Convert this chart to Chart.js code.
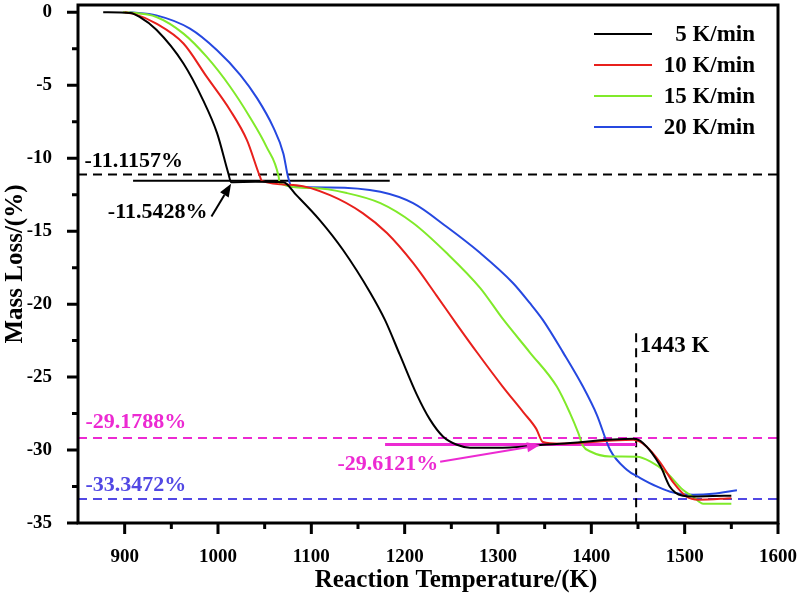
<!DOCTYPE html>
<html>
<head>
<meta charset="utf-8">
<script src="https://cdn.jsdelivr.net/npm/chart.js@4.4.0/dist/chart.umd.min.js"></script>
<style>
  html, body { margin: 0; padding: 0; background: #fff; }
</style>
</head>
<body>
<canvas id="tga-chart" width="798" height="595"></canvas>
<script>
// Reaction temperature (K) and mass loss (%) for each heating rate
const temps5  = [877, 906, 916, 934, 963, 984, 999, 1011, 1014, 1040, 1070, 1084, 1109, 1134, 1163, 1179, 1195, 1213, 1227, 1241, 1256, 1270, 1313, 1348, 1366, 1445, 1455, 1474, 1484, 1490, 1498, 1509, 1530, 1550];
const mass5   = [0, -0.05, -0.32, -1.2, -3.51, -6.02, -8.28, -11.02, -11.64, -11.62, -11.64, -12.53, -14.24, -16.29, -19.2, -21.1, -23.5, -26.2, -27.9, -29.07, -29.64, -29.84, -29.82, -29.64, -29.57, -29.23, -29.5, -31.1, -32.5, -32.92, -33.13, -33.18, -33.15, -33.13];

const temps10 = [900, 909, 934, 963, 988, 1013, 1031, 1045, 1047, 1084, 1120, 1155, 1181, 1209, 1234, 1256, 1278, 1305, 1327, 1341, 1348, 1366, 1445, 1459, 1474, 1488, 1502, 1515, 1550];
const mass10  = [0, -0.09, -0.78, -2.14, -4.43, -6.71, -8.76, -11.27, -11.55, -11.85, -12.53, -13.76, -15.13, -17.18, -19.4, -21.4, -23.35, -25.65, -27.4, -28.55, -29.45, -29.57, -29.3, -29.75, -30.87, -32.24, -33.2, -33.4, -33.3];

const temps15 = [898, 906, 934, 963, 988, 1013, 1034, 1052, 1065, 1066, 1102, 1138, 1174, 1209, 1245, 1281, 1305, 1334, 1363, 1377, 1386, 1391, 1399, 1420, 1449, 1463, 1481, 1498, 1509, 1520, 1550];
const mass15  = [0, -0.02, -0.32, -1.46, -3.06, -5.1, -7.17, -9.22, -11.27, -11.72, -12.05, -12.39, -13.08, -14.44, -16.5, -18.9, -21.0, -23.3, -25.65, -27.45, -28.82, -29.7, -30.1, -30.44, -30.46, -30.78, -31.57, -32.72, -33.2, -33.68, -33.68];

const temps20 = [905, 934, 970, 999, 1024, 1042, 1059, 1070, 1075, 1079, 1120, 1174, 1209, 1245, 1281, 1316, 1334, 1348, 1370, 1391, 1406, 1420, 1438, 1452, 1470, 1488, 1509, 1530, 1556];
const mass20  = [0, -0.21, -1.12, -2.6, -4.3, -5.9, -7.85, -9.67, -11.27, -11.96, -12.0, -12.3, -13.08, -14.7, -16.5, -18.55, -19.92, -21.08, -23.34, -25.65, -27.6, -29.98, -31.35, -31.9, -32.49, -32.92, -33.06, -33.0, -32.75];

const seriesLabels = ['5 K/min', '10 K/min', '15 K/min', '20 K/min'];
const seriesColors = ['#000000', '#e8201c', '#80ea2a', '#2648e0'];

const xTicks = [900, 1000, 1100, 1200, 1300, 1400, 1500, 1600];
const xMinor = [950, 1050, 1150, 1250, 1350, 1450, 1550];
const yTicks = [0, -5, -10, -15, -20, -25, -30, -35];
const yMinor = [-2.5, -7.5, -12.5, -17.5, -22.5, -27.5, -32.5];

const PINK = '#ec2ad2';
const PURPLE = '#5248e4';

// reference lines and their labels (data coordinates)
const dashedLevels = [
  { y: -11.1157, color: '#000000', text: '-11.1157%', tx: 857, ty: -10.6 },
  { y: -29.1788, color: PINK, text: '-29.1788%', tx: 858, ty: -28.47 },
  { y: -33.3472, color: PURPLE, text: '-33.3472%', tx: 858, ty: -32.8 }
];
const plateauLines = [
  { y: -11.5428, from: 909, to: 1184, color: '#000000', width: 2, text: '-11.5428%', tx: 882, ty: -14.1, arrow: [993, -14.0, 1014, -11.75] },
  { y: -29.6121, from: 1179, to: 1448, color: PINK, width: 3, text: '-29.6121%', tx: 1128, ty: -31.4, arrow: [1238, -30.8, 1345, -29.66] }
];
const markTemp = 1448;
const markTop = -22;
const markText = '1443 K';
const markTextPos = [1452, -23.3];

const SERIF = '"Liberation Serif", "Times New Roman", serif';

const toPoints = (ts, ms) => ts.map((t, i) => ({ x: t, y: ms[i] }));
const allSeries = [[temps5, mass5], [temps10, mass10], [temps15, mass15], [temps20, mass20]];

function drawArrow(ctx, x1, y1, x2, y2, color) {
  const ang = Math.atan2(y2 - y1, x2 - x1);
  const head = 13, half = 5;
  ctx.save();
  ctx.strokeStyle = color;
  ctx.fillStyle = color;
  ctx.lineWidth = 2;
  ctx.beginPath();
  ctx.moveTo(x1, y1);
  ctx.lineTo(x2 - head * Math.cos(ang), y2 - head * Math.sin(ang));
  ctx.stroke();
  ctx.beginPath();
  ctx.moveTo(x2, y2);
  ctx.lineTo(x2 - head * Math.cos(ang) + half * Math.sin(ang), y2 - head * Math.sin(ang) - half * Math.cos(ang));
  ctx.lineTo(x2 - head * Math.cos(ang) - half * Math.sin(ang), y2 - head * Math.sin(ang) + half * Math.cos(ang));
  ctx.closePath();
  ctx.fill();
  ctx.restore();
}

const annotations = {
  id: 'annotations',
  beforeDatasetsDraw(chart) {
    const { ctx, chartArea: a, scales: { x, y } } = chart;
    ctx.save();
    ctx.lineWidth = 2;
    ctx.setLineDash([9, 6]);
    dashedLevels.forEach(l => {
      ctx.strokeStyle = l.color;
      ctx.beginPath();
      ctx.moveTo(a.left, y.getPixelForValue(l.y));
      ctx.lineTo(a.right, y.getPixelForValue(l.y));
      ctx.stroke();
    });
    ctx.strokeStyle = '#000';
    ctx.beginPath();
    ctx.moveTo(x.getPixelForValue(markTemp), y.getPixelForValue(markTop));
    ctx.lineTo(x.getPixelForValue(markTemp), a.bottom);
    ctx.stroke();
    ctx.setLineDash([]);
    plateauLines.forEach(l => {
      ctx.strokeStyle = l.color;
      ctx.lineWidth = l.width;
      ctx.beginPath();
      ctx.moveTo(x.getPixelForValue(l.from), y.getPixelForValue(l.y));
      ctx.lineTo(x.getPixelForValue(l.to), y.getPixelForValue(l.y));
      ctx.stroke();
    });
    ctx.restore();
  },
  afterDraw(chart) {
    const { ctx, chartArea: a, scales: { x, y } } = chart;
    ctx.save();
    // arrows
    plateauLines.forEach(l => {
      const [t1, m1, t2, m2] = l.arrow;
      drawArrow(ctx, x.getPixelForValue(t1), y.getPixelForValue(m1), x.getPixelForValue(t2), y.getPixelForValue(m2), l.color);
    });
    // labels
    ctx.font = 'bold 22px ' + SERIF;
    ctx.textAlign = 'left';
    ctx.textBaseline = 'alphabetic';
    dashedLevels.concat(plateauLines).forEach(l => {
      ctx.fillStyle = l.color;
      ctx.fillText(l.text, x.getPixelForValue(l.tx), y.getPixelForValue(l.ty));
    });
    ctx.fillStyle = '#000';
    ctx.font = 'bold 23px ' + SERIF;
    ctx.fillText(markText, x.getPixelForValue(markTextPos[0]), y.getPixelForValue(markTextPos[1]));

    // legend
    ctx.font = 'bold 23px ' + SERIF;
    ctx.textAlign = 'right';
    ctx.textBaseline = 'middle';
    chart.data.datasets.forEach((ds, i) => {
      const ly = a.top + 29 + i * 31;
      ctx.strokeStyle = ds.borderColor;
      ctx.lineWidth = 2;
      ctx.beginPath();
      ctx.moveTo(a.right - 184, ly);
      ctx.lineTo(a.right - 126, ly);
      ctx.stroke();
      ctx.fillStyle = '#000';
      ctx.fillText(ds.label, a.right - 23, ly + 1);
    });

    // frame and tick marks
    ctx.strokeStyle = '#000';
    ctx.lineWidth = 3;
    ctx.strokeRect(a.left, a.top, a.right - a.left, a.bottom - a.top);
    ctx.beginPath();
    xTicks.forEach(v => { const p = x.getPixelForValue(v); ctx.moveTo(p, a.bottom); ctx.lineTo(p, a.bottom + 11); });
    xMinor.forEach(v => { const p = x.getPixelForValue(v); ctx.moveTo(p, a.bottom); ctx.lineTo(p, a.bottom + 6); });
    yTicks.forEach(v => { const p = y.getPixelForValue(v); ctx.moveTo(a.left, p); ctx.lineTo(a.left - 11, p); });
    yMinor.forEach(v => { const p = y.getPixelForValue(v); ctx.moveTo(a.left, p); ctx.lineTo(a.left - 6, p); });
    ctx.stroke();

    // axis titles
    ctx.fillStyle = '#000';
    ctx.font = 'bold 25px ' + SERIF;
    ctx.textAlign = 'center';
    ctx.textBaseline = 'alphabetic';
    ctx.fillText('Reaction Temperature/(K)', a.left + 378, 587);
    ctx.translate(22, (a.top + a.bottom) / 2);
    ctx.rotate(-Math.PI / 2);
    ctx.fillText('Mass Loss/(%)', 0, 0);
    ctx.restore();
  }
};

const ctx = document.getElementById('tga-chart').getContext('2d');
new Chart(ctx, {
  type: 'line',
  data: {
    datasets: allSeries.map((s, i) => ({
      label: seriesLabels[i],
      data: toPoints(s[0], s[1]),
      borderColor: seriesColors[i],
      borderWidth: 2,
      pointRadius: 0,
      fill: false,
      cubicInterpolationMode: 'monotone'
    }))
  },
  options: {
    responsive: false,
    animation: false,
    devicePixelRatio: 1,
    layout: { padding: { top: 5, right: 20, left: 0, bottom: 0 } },
    plugins: { legend: { display: false }, tooltip: { enabled: false } },
    scales: {
      x: {
        type: 'linear',
        min: 850,
        max: 1600,
        grid: { display: false },
        border: { display: false },
        afterBuildTicks: (scale) => { scale.ticks = xTicks.map(v => ({ value: v })); },
        afterFit: (scale) => { scale.height = 72; scale.paddingLeft = 0; scale.paddingRight = 0; },
        ticks: { color: '#000', padding: 15, maxRotation: 0, callback: (v) => String(v), font: { family: SERIF, size: 19, weight: 'bold' } }
      },
      y: {
        type: 'linear',
        min: -35,
        max: 0.5,
        grid: { display: false },
        border: { display: false },
        afterBuildTicks: (scale) => { scale.ticks = yTicks.map(v => ({ value: v })); },
        afterFit: (scale) => { scale.width = 78; scale.paddingTop = 0; scale.paddingBottom = 0; },
        ticks: { color: '#000', padding: 18, callback: (v) => String(v), font: { family: SERIF, size: 19, weight: 'bold' } }
      }
    }
  },
  plugins: [annotations]
});
</script>
</body>
</html>
